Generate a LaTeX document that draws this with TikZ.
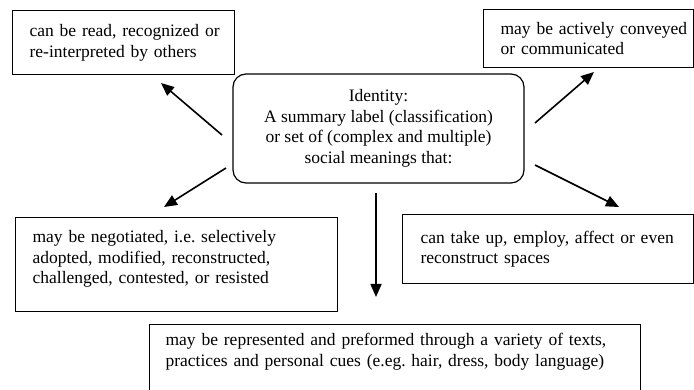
\documentclass[tikz,border=0pt]{standalone}
\usepackage{fontspec}
\setmainfont{Liberation Serif}
\usepackage{tikz}
\usetikzlibrary{
    arrows.meta,
    positioning
}

\begin{document}
\begin{tikzpicture}[
  x=1pt,y=-1pt,
  font=\fontsize{17.5}{20.5}\selectfont\frenchspacing,
  box/.style={rectangle,draw,line width=1.2pt,anchor=north west,
    align=left,inner xsep=17pt},
  idbox/.style={rectangle,draw,rounded corners=13pt,line width=1.2pt,
    align=center,minimum width=291pt,minimum height=109pt},
  arrow/.style={-{Triangle[length=13pt,width=11pt]},line width=1.6pt}
]
\path[use as bounding box,clip] (0,0) rectangle (694,390);
\node[idbox] (identity) at (378.5,128.5) {Identity:\\A summary label (classification)\\or set of (complex and multiple)\\social meanings that:};
\node[box,text width=188pt,minimum height=64pt] (read) at (12,10) {\mbox{can be read, recognized or}\\re-interpreted by others};
\node[box,text width=176pt,minimum height=58pt] (conveyed) at (483,9) {\mbox{may be actively conveyed}\\or communicated};
\node[box,inner ysep=13pt,text width=288pt,text depth=56pt] (negotiated) at (15,217) {may be negotiated, i.e. selectively\\adopted, modified, reconstructed,\\challenged, contested, or resisted};
\node[box,inner xsep=18pt,text width=255pt,minimum height=69pt] (spaces) at (402,214) {can take up, employ, affect or even\\reconstruct spaces};
\node[box,inner xsep=16pt,inner ysep=9pt,text width=459pt,text depth=50pt] (represented) at (149,324) {may be represented and preformed through a variety of texts,\\practices and personal cues (e.eg. hair, dress, body language)};
% arrow ends
\coordinate (readtail) at (222,135);
\coordinate (readhead) at (161,83);
\coordinate (negtail) at (226,168);
\coordinate (neghead) at (164,207);
\coordinate (convtail) at (535,123);
\coordinate (convhead) at (594,72);
\coordinate (spacetail) at (535,165);
\coordinate (spacehead) at (619,207);
\coordinate (reptail) at (376,193);
\coordinate (rephead) at (376,297);
\draw[arrow] (readtail) -- (readhead);
\draw[arrow] (negtail) -- (neghead);
\draw[arrow] (convtail) -- (convhead);
\draw[arrow] (spacetail) -- (spacehead);
\draw[arrow] (reptail) -- (rephead);
\end{tikzpicture}
\end{document}
